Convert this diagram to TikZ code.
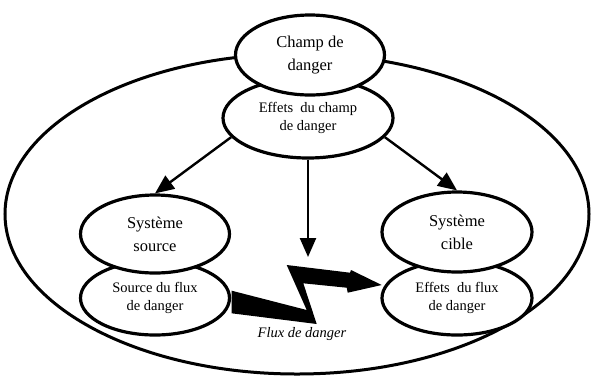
\documentclass[tikz,border=0pt]{standalone}
\usepackage{fontspec}
\setmainfont{Liberation Serif}
\usetikzlibrary{shapes.geometric,arrows.meta}
\tikzset{
  bulle/.style={ellipse,draw,line width=3.2pt,fill=white,inner sep=0pt,align=center},
  grand/.style={font=\fontsize{16.5}{23}\selectfont},
  petit/.style={font=\fontsize{14.5}{18.5}\selectfont},
  fleche/.style={line width=2.4pt,-{Triangle[length=19pt,width=16pt]}}
}
\begin{document}
\begin{tikzpicture}[x=1pt,y=-1pt]
  \useasboundingbox (0,0) rectangle (594,376);

  %systeme global
  \draw[line width=3pt] (297,214) ellipse [x radius=292pt, y radius=160pt];

  %source
  \node[bulle,petit,minimum width=149pt,minimum height=74pt] (srcflux) at (155,298) {Source du flux\\de danger};
  \node[bulle,grand,minimum width=149pt,minimum height=78pt] (syssource) at (155,234) {Système\\source};

  %cible
  \node[bulle,petit,minimum width=150pt,minimum height=74pt] (effflux) at (457,298) {Effets~~du flux\\de danger};
  \node[bulle,grand,minimum width=150pt,minimum height=80pt] (syscible) at (457,232) {Système\\cible};

  %champ
  \node[bulle,petit,minimum width=170pt,minimum height=80pt] (effchamp) at (308,118) {Effets~~du champ\\de danger};
  \node[bulle,grand,minimum width=149pt,minimum height=80pt] (champ) at (310,55) {Champ de\\danger};

  %arrows
  \coordinate (impact) at (308,257);
  \draw[fleche] (effchamp.194) -- (syssource.north);
  \draw[fleche] (effchamp.south) -- (impact);
  \draw[fleche] (effchamp.-14) -- (syscible.north);

  %flux
  \fill (231.7,290.7) -- (306.7,310) -- (286.7,265) -- (350,272.7) -- (351,270)
    -- (381.7,285) -- (347.7,292.7) -- (346.7,287.7) -- (303.3,283.3)
    -- (316.7,324) -- (231.7,313.3) -- cycle;
  \node[font=\fontsize{14.5}{17}\selectfont\itshape] (fluxlbl) at (302,334) {Flux de danger};
\end{tikzpicture}
\end{document}
